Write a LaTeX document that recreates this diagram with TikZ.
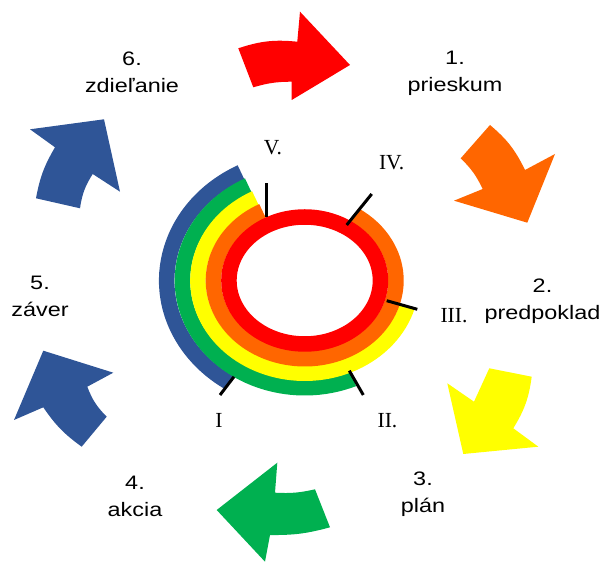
\documentclass[tikz,border=0pt]{standalone}
\usepackage{fontspec}
\setmainfont{Liberation Sans}[FakeStretch=1.2]
\newfontfamily\romfont{Liberation Serif}
\usetikzlibrary{positioning}

\definecolor{cred}{HTML}{FF0000}
\definecolor{corange}{HTML}{FF6600}
\definecolor{cyellow}{HTML}{FFFF00}
\definecolor{cgreen}{HTML}{00B050}
\definecolor{cblue}{HTML}{2F5597}

\begin{document}
\begin{tikzpicture}[x=1pt, y=1pt,
    stage/.style={align=center, anchor=base, inner sep=0pt,
                  font=\fontsize{19.5}{27}\selectfont},
    numeral/.style={inner sep=0pt, font=\romfont\fontsize{21.5}{24}\selectfont},
    band/.style={line width=15.5pt},
    tickline/.style={draw=black, line width=3pt}
  ]
  \useasboundingbox (0,0) rectangle (603,562);

  % cycle arrows
  \fill[cred] (238.3,513.7) to[bend left=12] (297.3,520.3) -- (300,550.3) -- (350,497)
    -- (291.7,462) -- (291.7,480.3) to[bend right=8] (253.3,474.7) -- cycle;
  \fill[corange] (490,437) to[bend left=12] (525,392) -- (555,408) -- (527.3,339.3)
    -- (454,361.3) -- (482.7,373) to[bend right=10] (460.7,403.7) -- cycle;
  \fill[cyellow] (531.7,185.3) -- (489.3,193.7) -- (474,160.3) -- (447.3,178.7)
    -- (463.3,108) -- (538.3,115.3) -- (513.3,133.7) to[bend right=12] cycle;
  \fill[cgreen] (277.3,99.3) -- (275,69.3) to[bend right=8] (315,72.7) -- (330,34.7)
    to[bend left=8] (270,27) -- (265,0.3) -- (216.7,52) -- cycle;
  \fill[cblue] (43.3,211.3) -- (113.3,189.3) -- (87.3,175.3) to[bend right=12] (106.7,145.3)
    -- (81.7,115.3) to[bend left=10] (43.3,154.7) -- (14,142) -- cycle;
  \fill[cblue] (30,432.7) -- (104,442.7) -- (120,370.3) -- (92.7,388)
    to[bend right=12] (80,353.7) -- (36,363.7) to[bend left=10] (55,414.7) -- cycle;

  % stages
  \node[stage] (s1) at (455,470) {1.\\prieskum};
  \node[stage] (s2) at (542.5,242) {2.\\predpoklad};
  \node[stage] (s3) at (423,49) {3.\\plán};
  \node[stage] (s4) at (135,45) {4.\\akcia};
  \node[stage] (s5) at (40,245) {5.\\záver};
  \node[stage] (s6) at (132,469) {6.\\zdieľanie};

  % rings
  \coordinate (c) at (304.7,281.5);
  \draw[band, cblue] ([shift={(117.5:138 and 122)}]c)
    arc[start angle=117.5, end angle=237, x radius=138, y radius=122];
  \draw[band, cgreen] ([shift={(117.5:122.25 and 107.25)}]c)
    arc[start angle=117.5, end angle=293.5, x radius=122.25, y radius=107.25];
  \draw[band, cyellow] ([shift={(117.5:106.75 and 92.75)}]c)
    arc[start angle=117.5, end angle=344, x radius=106.75, y radius=92.75];
  \draw[band, corange] ([shift={(117.5:91.25 and 78.25)}]c)
    arc[start angle=117.5, end angle=417, x radius=91.25, y radius=78.25];
  \draw[band, cred] (c) ellipse [x radius=75.75, y radius=63.5];

  % ticks
  \coordinate (t5a) at (266,344.7);   \coordinate (t5b) at (266,379.3);
  \coordinate (t4a) at (346.7,337);   \coordinate (t4b) at (371.7,368);
  \coordinate (t3a) at (386.7,261.3); \coordinate (t3b) at (417.3,252.7);
  \coordinate (t2a) at (349.3,191.3); \coordinate (t2b) at (363.3,167);
  \coordinate (t1a) at (234,185.3);   \coordinate (t1b) at (220,167);
  \draw[tickline] (t5a) -- (t5b);
  \draw[tickline] (t4a) -- (t4b);
  \draw[tickline] (t3a) -- (t3b);
  \draw[tickline] (t2a) -- (t2b);
  \draw[tickline] (t1a) -- (t1b);

  \node[numeral] (r5) at (273,414) {V.};
  \node[numeral] (r4) at (391.7,399) {IV.};
  \node[numeral] (r3) at (454,246) {III.};
  \node[numeral] (r2) at (387.5,141) {II.};
  \node[numeral] (r1) at (219,142) {I};
\end{tikzpicture}
\end{document}
